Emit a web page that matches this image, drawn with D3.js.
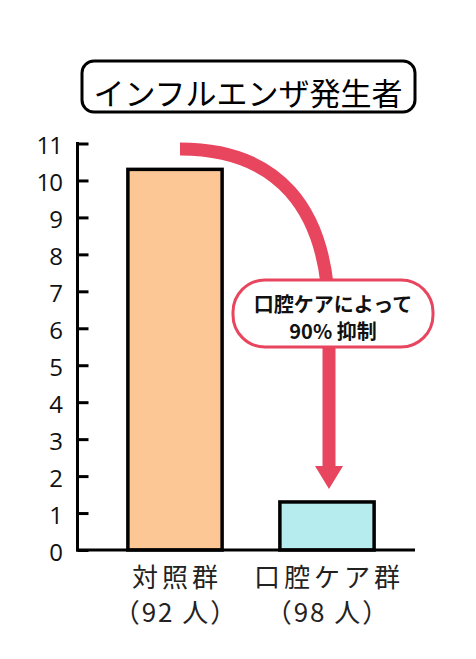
<!DOCTYPE html>
<html>
<head>
<meta charset="utf-8">
<script src="https://cdn.jsdelivr.net/npm/d3@7"></script>
<style>
  html, body { margin: 0; padding: 0; background: #fff; }
  svg { display: block; }
</style>
</head>
<body>
<svg id="chart" width="476" height="659"></svg>
<script>
// Influenza cases by group
const categories = ["対照群", "口腔ケア群"];
const counts = ["（92 人）", "（98 人）"];
const values = [10.3, 1.3];
const barColors = ["#fcc794", "#b7ecef"];
const yTicks = [0, 1, 2, 3, 4, 5, 6, 7, 8, 9, 10, 11];
const titleText = "インフルエンザ発生者";
const calloutLines = ["口腔ケアによって", "90% 抑制"];

const accent = "#e8455f";
const jp = "'Noto Sans CJK JP', 'Noto Sans', sans-serif";

const svg = d3.select("#chart");

const axisX = 77.5;
const y = d3.scaleLinear().domain([0, 11]).range([550, 143.5]);
const x = d3.scaleBand().domain(categories).range([99, 403])
  .paddingInner(0.38).paddingOuter(0.19);

// Title box
svg.append("rect")
  .attr("x", 82).attr("y", 61).attr("width", 333).attr("height", 51)
  .attr("rx", 12).attr("fill", "#fff").attr("stroke", "#000").attr("stroke-width", 3);
svg.append("text")
  .attr("x", 248).attr("y", 91)
  .attr("text-anchor", "middle").attr("dominant-baseline", "central")
  .attr("font-family", jp).attr("font-size", 31).attr("fill", "#000")
  .text(titleText);

// Bars
svg.selectAll("rect.bar").data(values).join("rect")
  .attr("class", "bar")
  .attr("x", (d, i) => x(categories[i]))
  .attr("y", d => y(d))
  .attr("width", x.bandwidth())
  .attr("height", d => y(0) - y(d))
  .attr("fill", (d, i) => barColors[i])
  .attr("stroke", "#000").attr("stroke-width", 3.5);

// Y axis with ticks on the inner side
const yAxis = d3.axisRight(y).tickValues(yTicks).tickSize(11).tickFormat("");
const gy = svg.append("g").attr("transform", `translate(${axisX},0)`).call(yAxis);
gy.select(".domain").remove();
gy.selectAll(".tick line").attr("stroke", "#000").attr("stroke-width", 3);
svg.append("line")
  .attr("x1", axisX).attr("x2", axisX).attr("y1", y(11) - 1.5).attr("y2", y(0) + 1.5)
  .attr("stroke", "#000").attr("stroke-width", 3);

svg.append("g").selectAll("text").data(yTicks).join("text")
  .attr("x", 62).attr("y", d => y(d) + 1)
  .attr("text-anchor", "end").attr("dominant-baseline", "central")
  .attr("font-family", "'Open Sans', sans-serif").attr("font-size", 24)
  .attr("letter-spacing", -1)
  .attr("fill", "#111")
  .text(d => d);

// Baseline
svg.append("line")
  .attr("x1", axisX - 1.5).attr("x2", 415).attr("y1", y(0)).attr("y2", y(0))
  .attr("stroke", "#000").attr("stroke-width", 3);

// Category labels
const labels = svg.append("g");
labels.selectAll("text.cat").data(categories).join("text")
  .attr("class", "cat")
  .attr("x", d => x(d) + x.bandwidth() / 2 + 2)
  .attr("y", 575)
  .attr("text-anchor", "middle").attr("dominant-baseline", "central")
  .attr("font-family", jp).attr("font-size", 26).attr("letter-spacing", 4)
  .attr("fill", "#222")
  .text(d => d);
labels.selectAll("text.cnt").data(counts).join("text")
  .attr("class", "cnt")
  .attr("x", (d, i) => x(categories[i]) + x.bandwidth() / 2 + 1)
  .attr("y", 610)
  .attr("text-anchor", "middle").attr("dominant-baseline", "central")
  .attr("font-family", jp).attr("font-size", 26).attr("letter-spacing", 2)
  .attr("fill", "#222")
  .text(d => d);

// Curved arrow from the control bar down to the oral-care bar
const shaftX = 329;
const headTop = 466;
const headTip = 489;
const arrowPath = d3.path();
arrowPath.moveTo(180, 149);
arrowPath.bezierCurveTo(275, 149, shaftX, 205, shaftX, 320);
arrowPath.lineTo(shaftX, headTop + 1);
svg.append("path")
  .attr("d", arrowPath.toString())
  .attr("fill", "none").attr("stroke", accent).attr("stroke-width", 13);
svg.append("path")
  .attr("d", `M${shaftX - 14},${headTop}L${shaftX + 14},${headTop}L${shaftX},${headTip}Z`)
  .attr("fill", accent);

// Callout
svg.append("rect")
  .attr("x", 233).attr("y", 280).attr("width", 200).attr("height", 67)
  .attr("rx", 32).attr("fill", "#fff").attr("stroke", accent).attr("stroke-width", 3);
svg.append("g").selectAll("text").data(calloutLines).join("text")
  .attr("x", 333).attr("y", (d, i) => 303 + i * 27)
  .attr("text-anchor", "middle").attr("dominant-baseline", "central")
  .attr("font-family", jp).attr("font-size", 20).attr("font-weight", 700)
  .attr("fill", "#111")
  .text(d => d);
</script>
</body>
</html>
